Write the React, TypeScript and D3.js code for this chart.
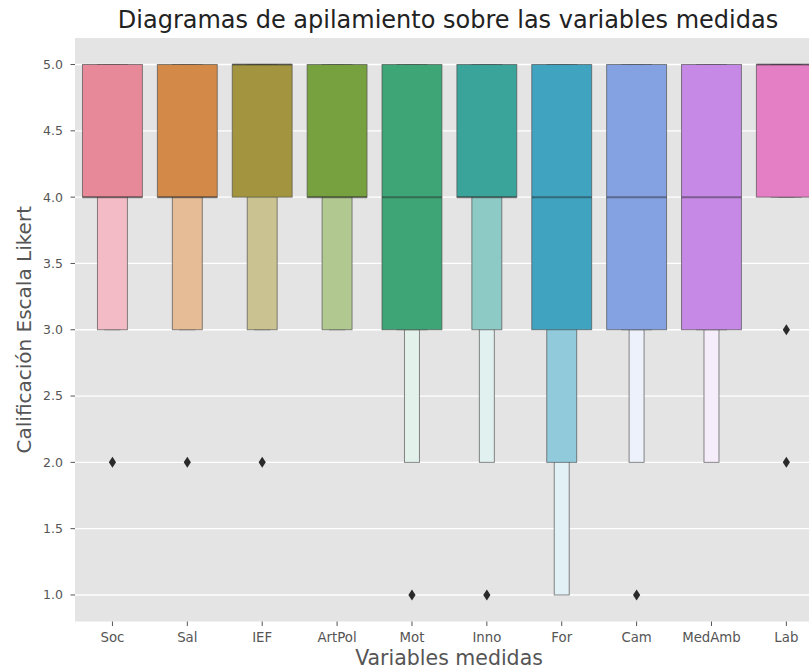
import * as d3 from "d3";

const categories = ["Soc", "Sal", "IEF", "ArtPol", "Mot", "Inno", "For", "Cam", "MedAmb", "Lab"];
const medians = [4, 4, 5, 4, 4, 4, 4, 4, 4, 5];
// letter values per variable, [low, high]
const quartileBox = [[4, 5], [4, 5], [4, 5], [4, 5], [3, 5], [4, 5], [3, 5], [3, 5], [3, 5], [4, 5]];
const eighthBox = [[3, 5], [3, 5], [3, 5], [3, 5], [3, 5], [3, 5], [2, 5], [3, 5], [3, 5], [4, 5]];
const sixteenthBox = [[3, 5], [3, 5], [3, 5], [3, 5], [2, 5], [2, 5], [1, 5], [2, 5], [2, 5], [4, 5]];
const outliers = [[2], [2], [2], [], [1], [1], [], [1], [], [3, 2]];
const yTicks = [1.0, 1.5, 2.0, 2.5, 3.0, 3.5, 4.0, 4.5, 5.0];

// desaturated husl palette as it appears in the picture
const palette = ["#e8899a", "#d38a48", "#a3953f", "#77a13f", "#3ea676", "#3aa39a", "#40a4c0", "#84a2e2", "#c68ae6", "#e57fc5"];

const W = 809;
const H = 670;
const margin = { top: 38, left: 75, bottom: 621.5 };
const bandW = 74.88;

export default function App() {
  const x = d3
    .scaleBand()
    .domain(categories)
    .range([margin.left, margin.left + bandW * categories.length])
    .padding(0);
  const y = d3.scaleLinear().domain([0.8, 5.2]).range([margin.bottom, margin.top]);
  const levelMix = [0, 0.425, 0.85];
  const fullW = x.bandwidth() * 0.8;

  return (
    <svg
      width={W}
      height={H}
      style={{ position: "absolute", left: 0, top: 0, background: "#fff" }}
      fontFamily="DejaVu Sans"
    >
      <rect x={margin.left} y={margin.top} width={W - margin.left} height={margin.bottom - margin.top} fill="#e4e4e4" />
      {/* Grid lines */}
      {yTicks.map((t) => (
        <line key={t} x1={margin.left} x2={W} y1={y(t)} y2={y(t)} stroke="#fff" strokeWidth={1.3} />
      ))}
      {/* Boxes, outer letter values first */}
      {categories.map((cat, i) => {
        const base = palette[i];
        const cx = x(cat)! + x.bandwidth() / 2;
        const boxes = [sixteenthBox[i], eighthBox[i], quartileBox[i]];
        return (
          <g key={cat}>
            {boxes.map((b, j) => {
              const lvl = 2 - j;
              const w = fullW * Math.pow(0.5, lvl);
              return (
                <rect
                  key={j}
                  x={cx - w / 2}
                  y={y(b[1])}
                  width={w}
                  height={y(b[0]) - y(b[1])}
                  fill={d3.interpolateRgb(base, "#ffffff")(levelMix[lvl])}
                  stroke="#4a4a4a"
                  strokeOpacity={0.65}
                  strokeWidth={1}
                />
              );
            })}
            <line
              x1={cx - fullW / 2}
              x2={cx + fullW / 2}
              y1={y(medians[i])}
              y2={y(medians[i])}
              stroke="#262626"
              strokeOpacity={0.45}
              strokeWidth={2}
            />
            {outliers[i].map((o, k) => (
              <path
                key={k}
                d={`M${cx},${y(o) - 5.5}L${cx + 3.6},${y(o)}L${cx},${y(o) + 5.5}L${cx - 3.6},${y(o)}Z`}
                fill="#2a2a2a"
              />
            ))}
          </g>
        );
      })}
      {/* Y axis */}
      {yTicks.map((t) => (
        <g key={t}>
          <line x1={margin.left - 4.5} x2={margin.left} y1={y(t)} y2={y(t)} stroke="#555" strokeWidth={1} />
          <text x={margin.left - 12} y={y(t)} dy="0.35em" textAnchor="end" fontSize={12.5} fill="#555">
            {t.toFixed(1)}
          </text>
        </g>
      ))}
      {/* X axis */}
      {categories.map((cat) => {
        const cx = x(cat)! + x.bandwidth() / 2;
        return (
          <g key={cat}>
            <line x1={cx} x2={cx} y1={margin.bottom} y2={margin.bottom + 4.5} stroke="#555" strokeWidth={1} />
            <text x={cx} y={642} textAnchor="middle" fontSize={13.3} fill="#555">
              {cat}
            </text>
          </g>
        );
      })}
      <text x={449} y={665} textAnchor="middle" fontSize={20.5} fill="#555">
        Variables medidas
      </text>
      <text
        transform={`translate(31,${(margin.top + margin.bottom) / 2}) rotate(-90)`}
        textAnchor="middle"
        fontSize={20}
        fill="#555"
      >
        Calificación Escala Likert
      </text>
      <text x={448} y={28} textAnchor="middle" fontSize={24} fill="#222">
        Diagramas de apilamiento sobre las variables medidas
      </text>
    </svg>
  );
}
